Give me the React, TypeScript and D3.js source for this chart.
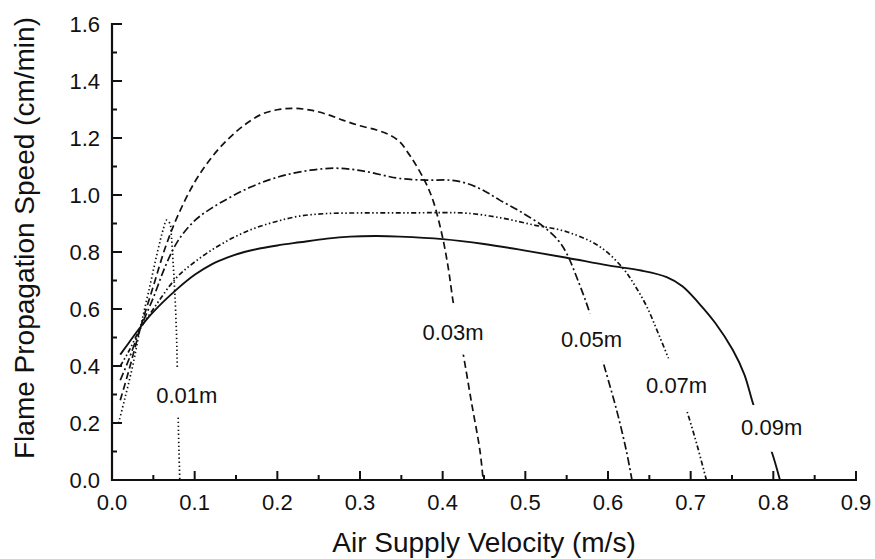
import React from "react";
import * as d3 from "d3";

// ---- data (x = air supply velocity m/s, y = flame propagation speed cm/min) ----
const series001: [number, number][] = [
  [0.008, 0.2], [0.015, 0.28], [0.025, 0.4], [0.034, 0.53], [0.045, 0.67], [0.055, 0.8],
  [0.062, 0.88], [0.066, 0.912], [0.07, 0.9], [0.072, 0.85], [0.074, 0.76], [0.076, 0.655],
  [0.078, 0.515], [0.079, 0.39], [0.08, 0.228], [0.081, 0.1], [0.082, 0.0],
];
const series003: [number, number][] = [
  [0.01, 0.28], [0.02, 0.38], [0.034, 0.53], [0.05, 0.68], [0.065, 0.82], [0.08, 0.93],
  [0.1, 1.045], [0.12, 1.13], [0.14, 1.195], [0.16, 1.245], [0.18, 1.282], [0.2, 1.299],
  [0.22, 1.304], [0.24, 1.298], [0.26, 1.283], [0.28, 1.262], [0.3, 1.243], [0.32, 1.228],
  [0.335, 1.212], [0.348, 1.187], [0.36, 1.14], [0.369, 1.099], [0.38, 1.04],
  [0.389, 0.975], [0.4, 0.85], [0.407, 0.74], [0.413, 0.62], [0.42, 0.52], [0.425, 0.44],
  [0.435, 0.27], [0.445, 0.105], [0.449, 0.0],
];
const series005: [number, number][] = [
  [0.01, 0.35], [0.02, 0.42], [0.034, 0.53], [0.05, 0.64], [0.066, 0.76], [0.08, 0.84],
  [0.1, 0.91], [0.12, 0.953], [0.143, 0.992], [0.167, 1.027], [0.19, 1.053], [0.211, 1.071],
  [0.24, 1.087], [0.268, 1.094], [0.29, 1.09], [0.308, 1.082], [0.33, 1.068], [0.348, 1.058],
  [0.38, 1.052], [0.409, 1.052], [0.43, 1.04], [0.45, 1.015], [0.469, 0.982], [0.495, 0.94],
  [0.522, 0.889], [0.54, 0.84], [0.55, 0.795], [0.565, 0.69], [0.578, 0.585], [0.594, 0.415],
  [0.61, 0.25], [0.622, 0.105], [0.629, 0.0],
];
const series007: [number, number][] = [
  [0.01, 0.4], [0.02, 0.45], [0.034, 0.53], [0.05, 0.6], [0.078, 0.71], [0.1, 0.765],
  [0.125, 0.815], [0.15, 0.855], [0.175, 0.886], [0.2, 0.908], [0.227, 0.926], [0.26, 0.935],
  [0.3, 0.937], [0.348, 0.937], [0.4, 0.938], [0.43, 0.936], [0.47, 0.92], [0.51, 0.895],
  [0.55, 0.871], [0.59, 0.819], [0.618, 0.743], [0.633, 0.68], [0.647, 0.608], [0.66, 0.52],
  [0.673, 0.427], [0.685, 0.33], [0.695, 0.246], [0.707, 0.13], [0.719, 0.0],
];
const series009: [number, number][] = [
  [0.01, 0.44], [0.02, 0.48], [0.034, 0.535], [0.05, 0.59], [0.078, 0.668], [0.1, 0.72],
  [0.12, 0.756], [0.14, 0.781], [0.16, 0.8], [0.18, 0.813], [0.2, 0.823], [0.227, 0.834],
  [0.26, 0.847], [0.288, 0.854], [0.32, 0.856], [0.348, 0.854], [0.4, 0.845], [0.45, 0.828],
  [0.5, 0.805], [0.55, 0.78], [0.6, 0.753], [0.64, 0.735], [0.671, 0.712], [0.69, 0.68],
  [0.71, 0.62], [0.73, 0.55], [0.751, 0.456], [0.765, 0.37], [0.776, 0.263], [0.787, 0.18],
  [0.798, 0.099], [0.808, 0.0],
];

const seriesNames = ["0.01m", "0.03m", "0.05m", "0.07m", "0.09m"];
// label anchors in data units [x, y]
const labelAnchors: [number, number][] = [
  [0.0904, 0.298], [0.4125, 0.516], [0.58, 0.494], [0.683, 0.333], [0.798, 0.185],
];
// gap around each label in data units [xMin, xMax, yMin, yMax]
const labelGaps: [number, number, number, number][] = [
  [0.06, 0.12, 0.228, 0.39], [0.39, 0.46, 0.44, 0.62], [0.56, 0.64, 0.415, 0.585],
  [0.65, 0.73, 0.246, 0.427], [0.76, 0.84, 0.099, 0.263],
];

const xTicks = [0, 0.1, 0.2, 0.3, 0.4, 0.5, 0.6, 0.7, 0.8, 0.9];
const yTicks = [0, 0.2, 0.4, 0.6, 0.8, 1.0, 1.2, 1.4, 1.6];
const xTitle = "Air Supply Velocity (m/s)";
const yTitle = "Flame Propagation Speed (cm/min)";

const allSeries = [series001, series003, series005, series007, series009];
const dashes = ["1.4 2.6", "7 4", "8 3 2 3", "5 2.5 1.5 2.5 1.5 2.5", ""];

const W = 875;
const H = 559;
const FONT = "'Liberation Sans', Arial, Helvetica, sans-serif";

export default function App() {
  const x = d3.scaleLinear().domain([0, 0.9]).range([112, 856]);
  const y = d3.scaleLinear().domain([0, 1.6]).range([480, 24]);
  const line = d3
    .line<[number, number]>()
    .x((d) => x(d[0]))
    .y((d) => y(d[1]))
    .curve(d3.curveCatmullRom.alpha(0.5));
  const fmt = d3.format(".1f");
  const xMinor = d3.range(0, 0.9001, 0.05);
  const yMinor = d3.range(0, 1.6001, 0.1);

  return (
    <svg
      width={W}
      height={H}
      style={{ position: "absolute", left: 0, top: 0, background: "#fff" }}
    >
      <defs>
        {labelGaps.map((g, i) => (
          <mask id={`gap${i}`} key={i} maskUnits="userSpaceOnUse" x={0} y={0} width={W} height={H}>
            <rect x={0} y={0} width={W} height={H} fill="#fff" />
            <rect
              x={x(g[0])}
              y={y(g[3])}
              width={x(g[1]) - x(g[0])}
              height={y(g[2]) - y(g[3])}
              fill="#000"
            />
          </mask>
        ))}
      </defs>

      {/* curves */}
      {allSeries.map((s, i) => (
        <path
          key={i}
          d={line(s) || ""}
          fill="none"
          stroke="#111"
          strokeWidth={i === 4 ? 1.9 : 1.7}
          strokeDasharray={dashes[i] || undefined}
          mask={`url(#gap${i})`}
        />
      ))}

      {/* curve labels */}
      {seriesNames.map((n, i) => (
        <text
          key={n}
          x={x(labelAnchors[i][0])}
          y={y(labelAnchors[i][1])}
          textAnchor="middle"
          dominantBaseline="central"
          fontFamily={FONT}
          fontSize={22}
          fill="#111"
        >
          {n}
        </text>
      ))}

      {/* y axis */}
      <line x1={x(0)} x2={x(0)} y1={y(0) + 1} y2={y(1.6) - 1} stroke="#111" strokeWidth={2.2} />
      {yMinor.map((v, i) => (
        <line
          key={"ym" + i}
          x1={x(0)}
          x2={x(0) + (i % 2 === 0 ? 10 : 5)}
          y1={y(v)}
          y2={y(v)}
          stroke="#111"
          strokeWidth={2}
        />
      ))}
      {yTicks.map((v) => (
        <text
          key={"yl" + v}
          x={x(0) - 12}
          y={y(v)}
          textAnchor="end"
          dominantBaseline="central"
          fontFamily={FONT}
          fontSize={22}
          fill="#111"
        >
          {fmt(v)}
        </text>
      ))}

      {/* x axis */}
      <line x1={x(0) - 1} x2={x(0.9) + 1} y1={y(0)} y2={y(0)} stroke="#111" strokeWidth={2.2} />
      {xMinor.map((v, i) => (
        <line
          key={"xm" + i}
          x1={x(v)}
          x2={x(v)}
          y1={y(0)}
          y2={y(0) - (i % 2 === 0 ? 9 : 5)}
          stroke="#111"
          strokeWidth={2}
        />
      ))}
      {xTicks.map((v) => (
        <text
          key={"xl" + v}
          x={x(v)}
          y={y(0) + 30}
          textAnchor="middle"
          fontFamily={FONT}
          fontSize={22}
          fill="#111"
        >
          {fmt(v)}
        </text>
      ))}

      {/* titles */}
      <text
        x={(x(0) + x(0.9)) / 2}
        y={552}
        textAnchor="middle"
        fontFamily={FONT}
        fontSize={28}
        fill="#111"
      >
        {xTitle}
      </text>
      <text
        transform={`translate(34, 238) rotate(-90)`}
        textAnchor="middle"
        fontFamily={FONT}
        fontSize={28}
        fill="#111"
      >
        {yTitle}
      </text>
    </svg>
  );
}
